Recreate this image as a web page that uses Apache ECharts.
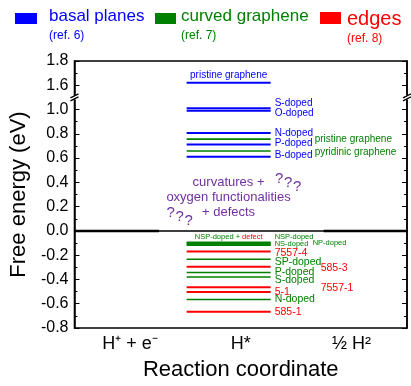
<!DOCTYPE html>
<html>
<head>
<meta charset="utf-8">
<script src="https://cdn.jsdelivr.net/npm/echarts@6/dist/echarts.min.js"></script>
<style>
html,body{margin:0;padding:0;background:#fff;}
#chart{width:411px;height:386px;}
</style>
</head>
<body>
<div id="chart"></div>
<script>
// reaction steps (x axis)
var steps = ['H\u207A + e\u207B', 'H*', '\u00BD H\u00B2'];

// basal planes (ref. 6)
var basalNames = ['pristine graphene', 'S-doped', 'O-doped', 'N-doped', 'P-doped', 'B-doped'];
var basalVals = [1.62, 1.01, 0.99, 0.806, 0.712, 0.612];

// curved graphene (ref. 7)
var curvedNames = ['pristine graphene', 'pyridinic graphene', 'NSP-doped + defect', 'NSP-doped', 'NS-doped', 'NP-doped', 'SP-doped', 'P-doped', 'S-doped', 'N-doped'];
var curvedVals = [0.756, 0.659, -0.093, -0.101, -0.109, -0.117, -0.233, -0.343, -0.38, -0.565];

// edges (ref. 8)
var edgeNames = ['7557-4', '585-3', '7557-1', '5-1', '585-1'];
var edgeVals = [-0.17, -0.295, -0.464, -0.504, -0.667];

// H+ + e- and 1/2 H2 reference levels
var refVals = [0, 0];

// y tick labels (real values), axis is broken between 1.0 and 1.6
var yMin = -0.8, yMax = 1.8, yStep = 0.2;
var breakLo = 1.3, breakShift = 0.4;

function toAxis(v){ return v > breakLo ? v - breakShift : v; }

// --- layout of the labels (pixels) ---
var basalDx = [null, 4, 4, 4, 4, 4];
var basalDy = [-8, -5, 2, 0, -1, -1];
var curvedDx = [44, 44, null, 4, 4, 42, 4, 4, 4, 4];
var curvedDy = [0, 1, -5, -6, 0, -2, 3, 0, 3, 0];
var curvedFs = [10, 10, 7.5, 7.5, 7.5, 7.5, 10.5, 10.5, 10.5, 10.5];
var edgeDx = [4, 50, 50, 4, 4];
var edgeDy = [2, 1, 1, 0, 0];

var FONT = '"Liberation Sans", Arial, sans-serif';
var BLUE = '#0000ff', GREEN = '#008000', RED = '#ff0000', PURPLE = '#7030a0';

// H* levels span this part of the hidden value axis (0..3)
var midX0 = 1.012, midX1 = 1.77;

function levelSeries(name, color, vals, names, dx, dy, fs, lw){
	return {
		type: 'custom',
		name: name,
		xAxisIndex: 1,
		yAxisIndex: 0,
		data: vals.map(function(v, i){ return [midX0, midX1, toAxis(v), i]; }),
		encode: {x: [0, 1], y: 2},
		z: 5,
		renderItem: function(params, api){
			var i = api.value(3);
			var p0 = api.coord([api.value(0), api.value(2)]);
			var p1 = api.coord([api.value(1), api.value(2)]);
			var kids = [{
				type: 'line',
				shape: {x1: p0[0], y1: p0[1], x2: p1[0], y2: p1[1]},
				style: {stroke: color, lineWidth: lw || 2}
			}];
			if (names && names[i]) {
				var size = fs ? fs[i] : 10;
				var st = {text: names[i], fill: color, fontSize: size, fontFamily: FONT, verticalAlign: 'middle', align: 'left'};
				var x = p1[0] + (dx[i] || 0);
				if (dx[i] == null) {
					x = (p0[0] + p1[0]) / 2;
					st.align = 'center';
				}
				if (names[i] == 'NSP-doped + defect') {
					st.text = '{g|NSP-doped + }{r|defect}';
					st.rich = {
						g: {fill: GREEN, fontSize: size, fontFamily: FONT},
						r: {fill: RED, fontSize: size, fontFamily: FONT}
					};
				}
				kids.push({type: 'text', x: x, y: p1[1] + dy[i], style: st});
			}
			return {type: 'group', children: kids};
		}
	};
}

var refSeries = {
	type: 'custom',
	name: 'reference',
	xAxisIndex: 1,
	yAxisIndex: 0,
	data: [[0, 0.762, refVals[0]], [2.248, 3, refVals[1]]],
	encode: {x: [0, 1], y: 2},
	z: 5,
	renderItem: function(params, api){
		var p0 = api.coord([api.value(0), api.value(2)]);
		var p1 = api.coord([api.value(1), api.value(2)]);
		return {type: 'line', shape: {x1: p0[0], y1: p0[1], x2: p1[0], y2: p1[1]}, style: {stroke: '#000', lineWidth: 2.5}};
	}
};

function yLabel(val){
	var v = val > 1.1 ? val + breakShift : val;
	if (Math.abs(v) < 1e-9) v = 0;
	return v.toFixed(1);
}

var yAxisBase = {
	type: 'value',
	min: yMin,
	max: toAxis(yMax),
	interval: yStep,
	splitLine: {show: false},
	axisLine: {show: true, lineStyle: {color: '#000', width: 1.5}},
	axisTick: {show: true, inside: true, length: 5, lineStyle: {color: '#000', width: 1}},
	minorTick: {show: true, splitNumber: 2, length: 3, lineStyle: {color: '#000', width: 1}},
	axisLabel: {show: true, color: '#000', fontSize: 16, fontFamily: FONT, margin: 6, formatter: yLabel}
};

var chart = echarts.init(document.getElementById('chart'), null, {renderer: 'canvas'});

var option = {
	animation: false,
	backgroundColor: '#fff',
	textStyle: {fontFamily: FONT},
	grid: {left: 72, right: 4, top: 61, bottom: 53, show: true, borderColor: '#000', borderWidth: 1.5, backgroundColor: 'transparent'},
	xAxis: [{
		type: 'category',
		data: steps,
		boundaryGap: true,
		axisLine: {lineStyle: {color: '#000', width: 1.5}},
		axisTick: {alignWithLabel: true, length: 4, lineStyle: {color: '#000'}},
		axisLabel: {color: '#000', fontSize: 18, fontFamily: FONT, margin: 7},
		name: 'Reaction coordinate',
		nameLocation: 'middle',
		nameGap: 31,
		nameTextStyle: {color: '#000', fontSize: 22, fontFamily: FONT}
	}, {
		type: 'value',
		min: 0,
		max: 3,
		show: false
	}],
	yAxis: [
		echarts.util.merge({
			position: 'left',
			name: 'Free energy (eV)',
			nameLocation: 'middle',
			nameGap: 42,
			nameTextStyle: {color: '#000', fontSize: 22, fontFamily: FONT}
		}, yAxisBase, true),
		echarts.util.merge({position: 'right', axisLabel: {show: false}}, echarts.util.clone(yAxisBase))
	],
	series: [
		refSeries,
		levelSeries('basal planes', BLUE, basalVals, basalNames, basalDx, basalDy, null, 2),
		levelSeries('curved graphene', GREEN, curvedVals, curvedNames, curvedDx, curvedDy, curvedFs, 1.6),
		levelSeries('edges', RED, edgeVals, edgeNames, edgeDx, edgeDy, [10.5, 10.5, 10.5, 10.5, 10.5], 2)
	]
};
option.yAxis[1].axisLabel.show = false;
chart.setOption(option);

// legend, annotations and axis-break marks
var g = [];
function rect(x, y, w, h, c){ g.push({type: 'rect', shape: {x: x, y: y, width: w, height: h}, style: {fill: c}}); }
function txt(x, y, s, size, c, align){
	g.push({type: 'text', x: x, y: y, style: {text: s, fontSize: size, fontFamily: FONT, fill: c, align: align || 'left', verticalAlign: 'middle'}});
}
rect(15, 13, 22, 11, BLUE);
txt(49, 16, 'basal planes', 17, BLUE);
txt(49, 35.5, '(ref. 6)', 12, BLUE);
rect(155, 13, 21, 11, GREEN);
txt(181, 16, 'curved graphene', 17, GREEN);
txt(181, 35.5, '(ref. 7)', 12, GREEN);
rect(320, 12, 21, 12, RED);
txt(347, 19, 'edges', 20, RED);
txt(347, 38.5, '(ref. 8)', 12, RED);

var pc = chart.convertToPixel({xAxisIndex: 1, yAxisIndex: 0}, [1.39, 0.28]);
g.push({type: 'text', x: pc[0], y: pc[1], style: {text: 'curvatures +\noxygen functionalities\n+ defects', fontSize: 13, lineHeight: 15, fontFamily: FONT, fill: PURPLE, align: 'center', verticalAlign: 'middle'}});
[[1.81, 0.43], [0.83, 0.145]].forEach(function(q){
	var p = chart.convertToPixel({xAxisIndex: 1, yAxisIndex: 0}, q);
	for (var k = 0; k < 3; k++) {
		g.push({type: 'text', x: p[0] + k * 9, y: p[1] + k * 4, style: {text: '?', fontSize: 15, fontFamily: FONT, fill: PURPLE, verticalAlign: 'middle'}});
	}
});

[0, 3].forEach(function(xv){
	var p = chart.convertToPixel({xAxisIndex: 1, yAxisIndex: 0}, [xv, 1.1]);
	g.push({type: 'rect', shape: {x: p[0] - 2, y: p[1] - 2, width: 7, height: 4}, style: {fill: '#fff'}, z: 100});
	g.push({type: 'line', shape: {x1: p[0] - 4, y1: p[1] + 0.5, x2: p[0] + 4, y2: p[1] - 3.5}, style: {stroke: '#000', lineWidth: 1.2}, z: 101});
	g.push({type: 'line', shape: {x1: p[0] - 4, y1: p[1] + 3.5, x2: p[0] + 4, y2: p[1] - 0.5}, style: {stroke: '#000', lineWidth: 1.2}, z: 101});
});

chart.setOption({graphic: {elements: g}});
</script>
</body>
</html>
